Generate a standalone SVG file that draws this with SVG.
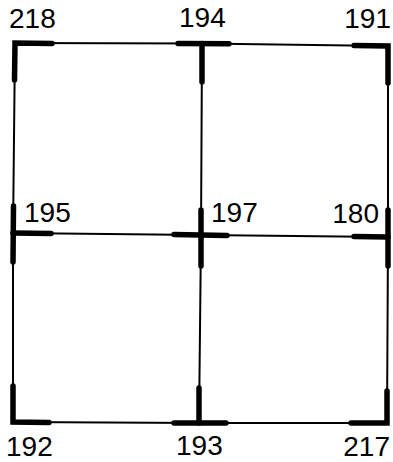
<svg xmlns="http://www.w3.org/2000/svg" width="393" height="462" viewBox="0 0 393 462">
<style>
.thin{stroke:#000;stroke-width:2;fill:none}
.thick{stroke:#000;stroke-width:5.5;stroke-linecap:round;fill:none}
.lbl{font-family:"Liberation Sans",Arial,sans-serif;font-size:28px;fill:#000}
</style>
<rect width="393" height="462" fill="#fff"/>
<g id="connectors">
<polyline class="thin" points="15,43 202,43.5 388,46"/>
<polyline class="thin" points="13,233 201,235 388,237"/>
<polyline class="thin" points="13,422 199,423 387,423"/>
<polyline class="thin" points="15,43 13,233 13,422"/>
<polyline class="thin" points="202,43.5 201,235 199,423"/>
<polyline class="thin" points="388,46 388,237 387,423"/>
</g>
<g id="n218">
<path class="thick" d="M52,43.5 L15,43 L14.5,80"/>
<text class="lbl" x="9" y="28">218</text>
</g>
<g id="n194">
<line class="thick" x1="178" y1="43.5" x2="229" y2="43.8"/>
<line class="thick" x1="202" y1="43.5" x2="202" y2="82"/>
<text class="lbl" x="179" y="27">194</text>
</g>
<g id="n191">
<path class="thick" d="M354,45.5 L388,46 L388,83"/>
<text class="lbl" x="391" y="28" text-anchor="end">191</text>
</g>
<g id="n195">
<line class="thick" x1="13.5" y1="206" x2="13" y2="262"/>
<line class="thick" x1="13" y1="233" x2="51" y2="233.5"/>
<text class="lbl" x="24" y="222">195</text>
</g>
<g id="n197">
<line class="thick" x1="174" y1="234.5" x2="227" y2="235.5"/>
<line class="thick" x1="201" y1="210" x2="201" y2="266"/>
<text class="lbl" x="211" y="222">197</text>
</g>
<g id="n180">
<line class="thick" x1="354" y1="236.5" x2="388" y2="237"/>
<line class="thick" x1="388" y1="210" x2="388" y2="266"/>
<text class="lbl" x="379" y="223" text-anchor="end">180</text>
</g>
<g id="n192">
<path class="thick" d="M13,386 L13,422 L49,422.5"/>
<text class="lbl" x="6" y="456">192</text>
</g>
<g id="n193">
<line class="thick" x1="174" y1="423" x2="226" y2="423"/>
<line class="thick" x1="199" y1="388" x2="199" y2="423"/>
<text class="lbl" x="176" y="455">193</text>
</g>
<g id="n217">
<path class="thick" d="M351,423 L387,423 L387,391"/>
<text class="lbl" x="390" y="456" text-anchor="end">217</text>
</g>
</svg>
